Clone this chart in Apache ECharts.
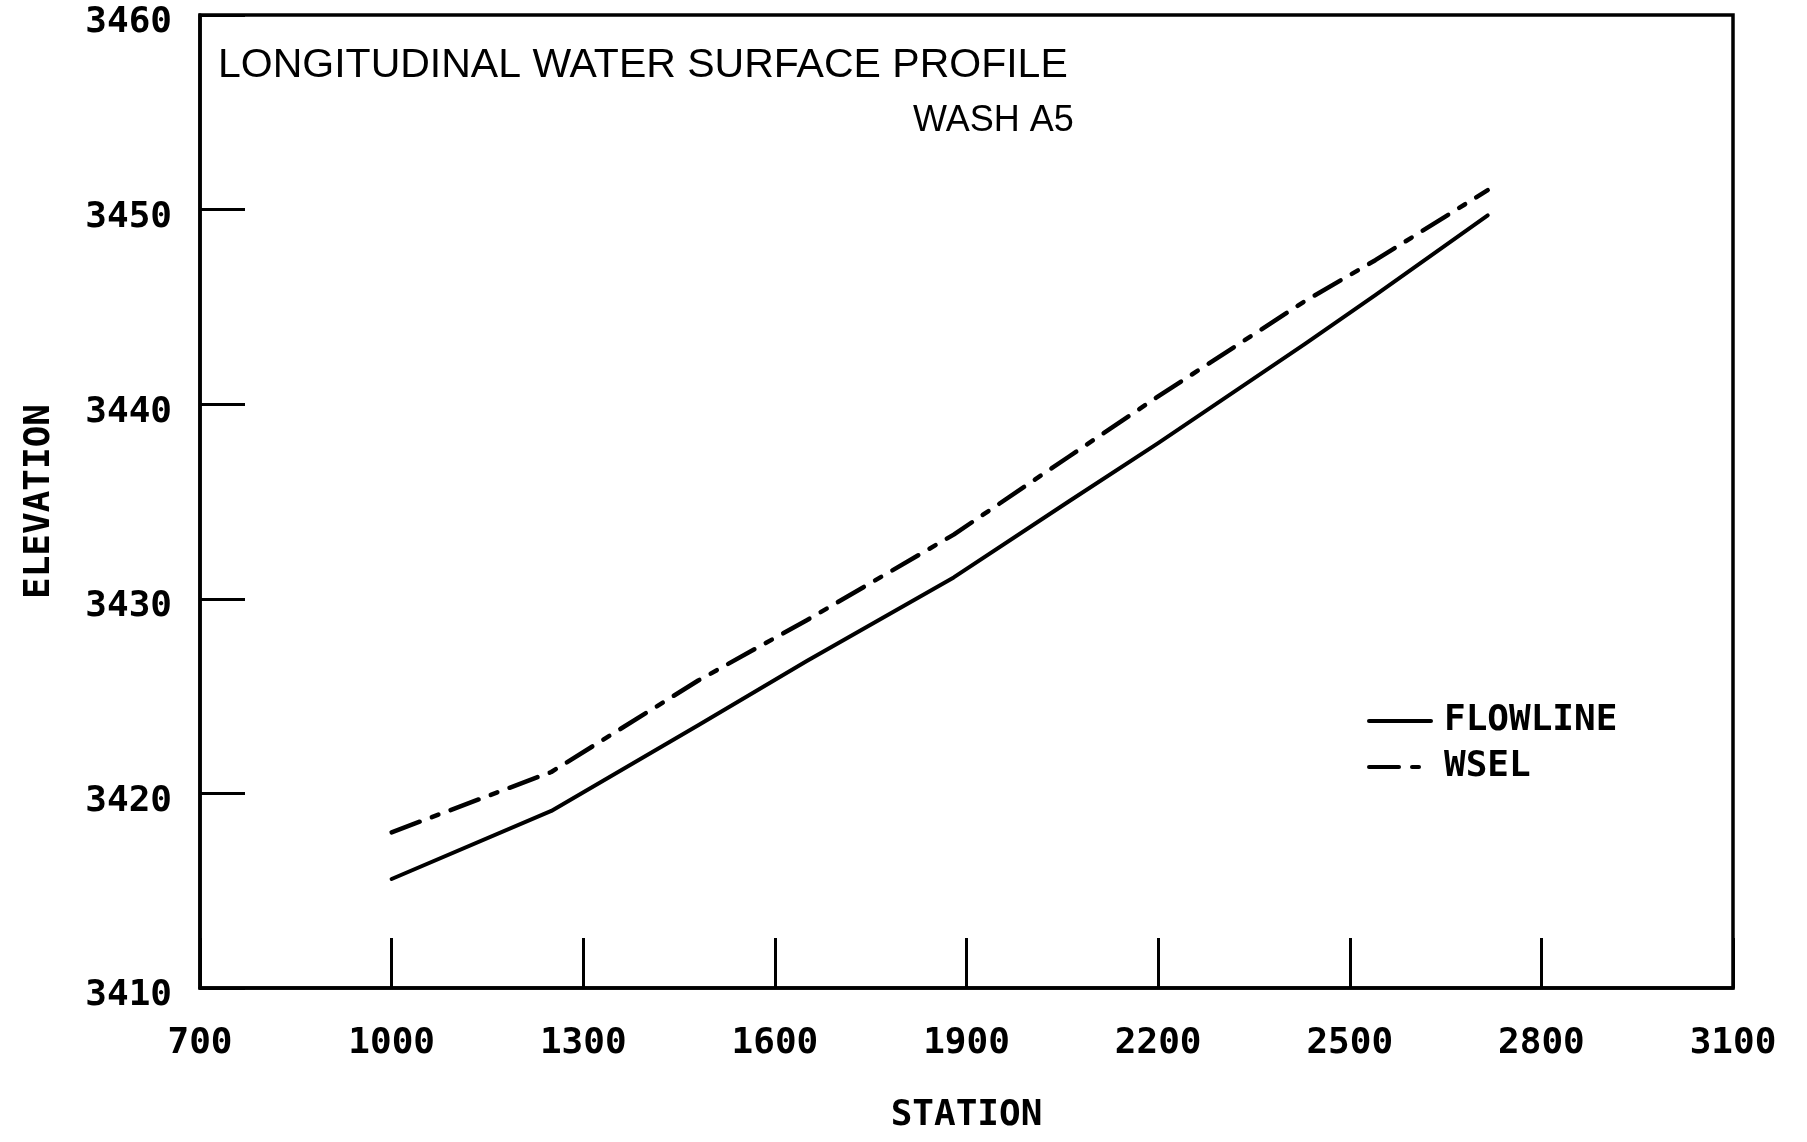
<!DOCTYPE html>
<html>
<head>
<meta charset="utf-8">
<script src="https://cdn.jsdelivr.net/npm/echarts@6/dist/echarts.min.js"></script>
<style>
html,body{margin:0;padding:0;background:#fff;}
#chart{width:1807px;height:1142px;}
</style>
</head>
<body>
<div id="chart"></div>
<script>
const titleText = 'LONGITUDINAL WATER SURFACE PROFILE';
const subtitleText = 'WASH A5';
const xAxisName = 'STATION';
const yAxisName = 'ELEVATION';
const seriesNames = ['FLOWLINE', 'WSEL'];
const stations = [1000, 1250, 1480, 1650, 1880, 2060, 2200, 2430, 2540, 2716];
const flowline = [3415.6, 3419.1, 3423.5, 3426.8, 3431.1, 3435.0, 3438.0, 3443.1, 3445.6, 3449.7];
const wsel     = [3418.0, 3421.1, 3425.8, 3428.9, 3433.3, 3437.3, 3440.4, 3445.3, 3447.4, 3451.0];
const xMin = 700, xMax = 3100, xStep = 300;
const yMin = 3410, yMax = 3460, yStep = 10;

const monoFont = '"DejaVu Sans Mono", "Liberation Mono", monospace';
const chart = echarts.init(document.getElementById('chart'), null, {renderer: 'canvas'});
const pair = (xs, ys) => xs.map((x, i) => [x, ys[i]]);
const plain = v => String(v);

chart.setOption({
  backgroundColor: '#ffffff',
  animation: false,
  title: [
    {text: titleText, left: 213, top: 40,
     textStyle: {fontFamily: '"Liberation Sans", Arial, sans-serif', fontSize: 41, fontWeight: 'normal', color: '#000'}},
    {text: subtitleText, left: 908, top: 98,
     textStyle: {fontFamily: '"Liberation Sans", Arial, sans-serif', fontSize: 36, fontWeight: 'normal', color: '#000'}}
  ],
  legend: {
    orient: 'vertical', left: 1362, top: 698,
    itemWidth: 62, itemHeight: 28, itemGap: 10,
    data: seriesNames,
    itemStyle: {opacity: 0},
    lineStyle: {width: 4},
    textStyle: {fontFamily: monoFont, fontWeight: 'bold', fontSize: 36, color: '#000', lineHeight: 28, padding: [0,0,0,8]}
  },
  grid: {left: 200, right: 74, top: 15, bottom: 154, show: true, borderColor: '#000', borderWidth: 3.5, backgroundColor: 'transparent'},
  xAxis: {
    type: 'value', min: xMin, max: xMax, interval: xStep,
    name: xAxisName, nameLocation: 'middle', nameGap: 110,
    nameTextStyle: {fontFamily: monoFont, fontWeight: 'bold', fontSize: 36, color: '#000'},
    axisLine: {show: true, lineStyle: {color: '#000', width: 3.5}},
    axisTick: {show: true, inside: true, length: 50, lineStyle: {color: '#000', width: 3}},
    axisLabel: {fontFamily: monoFont, fontWeight: 'bold', fontSize: 36, color: '#000', margin: 38, formatter: plain},
    splitLine: {show: false}
  },
  yAxis: {
    type: 'value', min: yMin, max: yMax, interval: yStep,
    name: yAxisName, nameLocation: 'middle', nameGap: 142, nameRotate: 90,
    nameTextStyle: {fontFamily: monoFont, fontWeight: 'bold', fontSize: 36, color: '#000'},
    axisLine: {show: true, lineStyle: {color: '#000', width: 3.5}},
    axisTick: {show: true, inside: true, length: 45, lineStyle: {color: '#000', width: 3}},
    axisLabel: {color: '#000', margin: 28, formatter: v => '{a|' + v + '}',
      rich: {a: {fontFamily: monoFont, fontWeight: 'bold', fontSize: 36, color: '#000', padding: [16, 0, 0, 0]}}},
    splitLine: {show: false}
  },
  series: [
    {name: seriesNames[0], type: 'line', data: pair(stations, flowline), symbol: 'none',
     lineStyle: {color: '#000', width: 4, type: 'solid', cap: 'round', join: 'round'},
     itemStyle: {color: '#000'}},
    {name: seriesNames[1], type: 'line', data: pair(stations, wsel), symbol: 'none',
     lineStyle: {color: '#000', width: 4.5, type: [30, 13, 7, 13], cap: 'round', join: 'round'},
     itemStyle: {color: '#000'}}
  ]
});
</script>
</body>
</html>
